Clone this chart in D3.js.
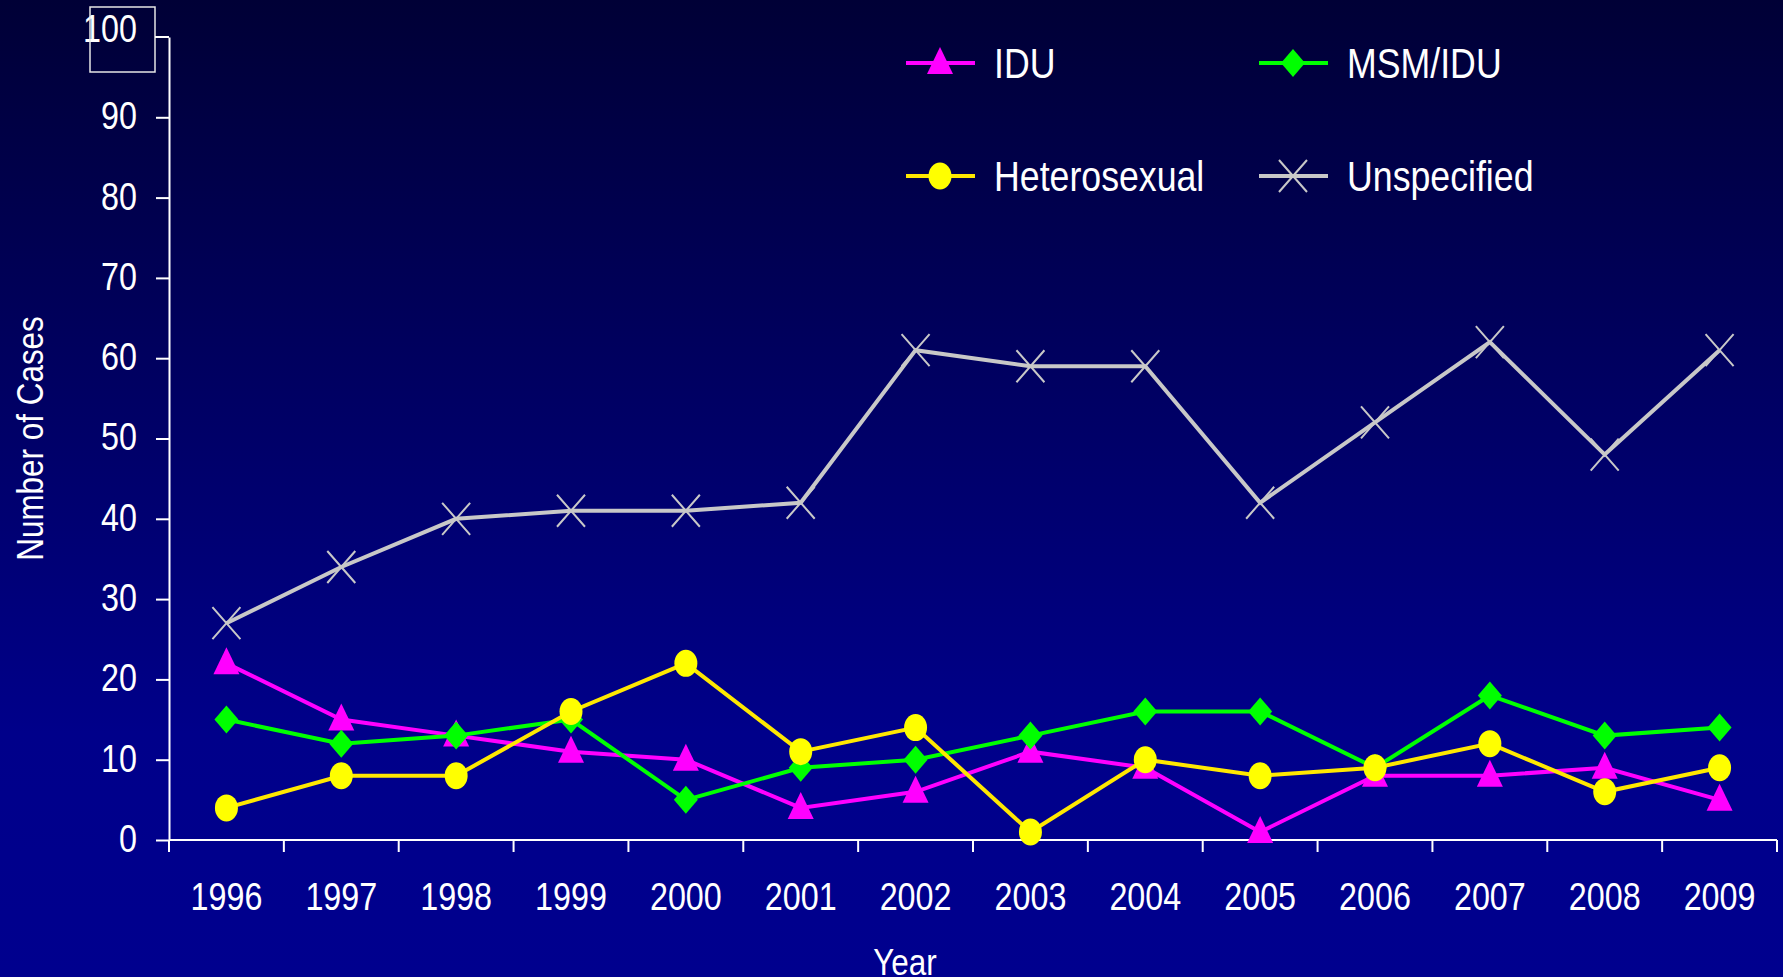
<!DOCTYPE html>
<html>
<head>
<meta charset="utf-8">
<script src="https://cdn.jsdelivr.net/npm/d3@7"></script>
<style>
  body { margin: 0; background: #000060; overflow: hidden; }
  text { font-family: "Liberation Sans", Arial, sans-serif; fill: #ffffff; }
</style>
</head>
<body>
<div id="chart"></div>
<script>
// data
var years = ["1996","1997","1998","1999","2000","2001","2002","2003","2004","2005","2006","2007","2008","2009"];
var idu          = [22, 15, 13, 11, 10, 4, 6, 11, 9, 1, 8, 8, 9, 5];
var msmIdu       = [15, 12, 13, 15, 5, 9, 10, 13, 16, 16, 9, 18, 13, 14];
var heterosexual = [4, 8, 8, 16, 22, 11, 14, 1, 10, 8, 9, 12, 6, 9];
var unspecified  = [27, 34, 40, 41, 41, 42, 61, 59, 59, 42, 52, 62, 48, 61];
var yTicks = [0, 10, 20, 30, 40, 50, 60, 70, 80, 90, 100];

var W = 1783, H = 977;
var margin = {top: 37, right: 6, bottom: 137, left: 169};
var narrow = 0.85; // squeeze the text horizontally, the original font is a condensed one

var svg = d3.select("#chart")
  .append("svg")
    .attr("width", W)
    .attr("height", H);

// background gradient
var grad = svg.append("defs").append("linearGradient")
    .attr("id", "bg")
    .attr("x1", 0).attr("y1", 0).attr("x2", 0).attr("y2", 1);
grad.append("stop").attr("offset", "0%").attr("stop-color", "#000036");
grad.append("stop").attr("offset", "75%").attr("stop-color", "#00008a");
grad.append("stop").attr("offset", "100%").attr("stop-color", "#00008e");
svg.append("rect").attr("width", W).attr("height", H).attr("fill", "url(#bg)");

// make a text narrower without moving it
function squeeze(sel) {
  sel.each(function() {
    var t = d3.select(this);
    var tx = +t.attr("x") || 0;
    t.attr("x", tx / narrow).attr("transform", "scale(" + narrow + ",1)");
  });
}

var x = d3.scaleBand()
  .domain(years)
  .range([margin.left, W - margin.right]);

var y = d3.scaleLinear()
  .domain([0, 100])
  .range([H - margin.bottom, margin.top]);

// X axis
var xAxis = svg.append("g")
  .attr("transform", "translate(0," + (H - margin.bottom) + ")")
  .call(d3.axisBottom(x).tickSize(0).tickPadding(0));
xAxis.select(".domain").attr("stroke", "#fff").attr("stroke-width", 2).attr("d",
  "M" + margin.left + ",0H" + (W - margin.right));
xAxis.selectAll(".tick text")
  .attr("y", 70)
  .attr("dy", 0)
  .attr("font-size", 38)
  .attr("font-family", null)
  .attr("fill", "#fff")
  .call(squeeze);
// ticks on band edges
xAxis.selectAll(".edge")
  .data(years.concat(["end"]))
  .enter().append("line")
    .attr("x1", (d, i) => i < years.length ? x(d) : x.range()[1])
    .attr("x2", (d, i) => i < years.length ? x(d) : x.range()[1])
    .attr("y1", 0)
    .attr("y2", 12)
    .attr("stroke", "#fff")
    .attr("stroke-width", 2);

// Y axis
var yAxis = svg.append("g")
  .attr("transform", "translate(" + margin.left + ",0)")
  .call(d3.axisLeft(y).tickValues(yTicks).tickSize(13).tickPadding(19).tickSizeOuter(0));
yAxis.select(".domain").attr("stroke", "#fff").attr("stroke-width", 2);
yAxis.selectAll(".tick line").attr("stroke", "#fff").attr("stroke-width", 2);
yAxis.selectAll(".tick text")
  .attr("font-size", 38)
  .attr("font-family", null)
  .attr("fill", "#fff")
  .attr("dy", d => d === 100 ? "0.12em" : "0.3em")
  .call(squeeze);
// the "100" sits in a little box
yAxis.selectAll(".tick line").filter(d => d === 100).remove();
svg.append("rect")
  .attr("x", margin.left - 79)
  .attr("y", y(100) - 30)
  .attr("width", 65)
  .attr("height", 65)
  .attr("fill", "none")
  .attr("stroke", "#e6e6e6")
  .attr("stroke-width", 1.5);
svg.append("line")
  .attr("x1", margin.left - 14).attr("x2", margin.left)
  .attr("y1", y(100)).attr("y2", y(100))
  .attr("stroke", "#fff").attr("stroke-width", 2);

// axis titles
svg.append("text")
  .attr("transform", "translate(" + 43 + "," + ((margin.top + H - margin.bottom) / 2) + ") rotate(-90) scale(" + narrow + ",1)")
  .style("text-anchor", "middle")
  .attr("font-size", 37)
  .text("Number of Cases");
svg.append("text")
  .attr("x", 905)
  .attr("y", H - 2)
  .style("text-anchor", "middle")
  .attr("font-size", 37)
  .text("Year")
  .call(squeeze);

// series
var series = [
  {name: "IDU", values: idu, color: "#ff00ff", marker: "triangle"},
  {name: "MSM/IDU", values: msmIdu, color: "#00ff00", marker: "diamond"},
  {name: "Heterosexual", values: heterosexual, color: "#ffff00", line: "#ffe800", marker: "circle"},
  {name: "Unspecified", values: unspecified, color: "#c8c8c8", marker: "cross"}
];

var line = d3.line()
  .x((d, i) => x(years[i]) + x.bandwidth() / 2)
  .y(d => y(d));

function drawMarker(g, s) {
  if (s.marker === "triangle") {
    g.append("path").attr("d", "M0,-16L13,11L-13,11Z").attr("fill", s.color);
  } else if (s.marker === "diamond") {
    g.append("path").attr("d", "M0,-14L12,0L0,14L-12,0Z").attr("fill", s.color);
  } else if (s.marker === "circle") {
    g.append("ellipse").attr("rx", 11.5).attr("ry", 13.5).attr("fill", s.color);
  } else {
    g.append("path").attr("d", "M-14,-16L14,16M-14,16L14,-16")
      .attr("stroke", s.color).attr("stroke-width", 2).attr("fill", "none");
  }
}

series.forEach(s => {
  var g = svg.append("g");
  g.append("path")
    .datum(s.values)
    .attr("d", line)
    .attr("fill", "none")
    .attr("stroke", s.line || s.color)
    .attr("stroke-width", 4);
  g.selectAll(".pt")
    .data(s.values)
    .enter().append("g")
      .attr("transform", (d, i) => "translate(" + (x(years[i]) + x.bandwidth() / 2) + "," + y(d) + ")")
      .each(function() { drawMarker(d3.select(this), s); });
});

// legend
var legendPos = [[906, 63], [1259, 63], [906, 176], [1259, 176]];
series.forEach((s, i) => {
  var lg = svg.append("g").attr("transform", "translate(" + legendPos[i][0] + "," + legendPos[i][1] + ")");
  lg.append("line").attr("x1", 0).attr("x2", 69).attr("y1", 0).attr("y2", 0)
    .attr("stroke", s.line || s.color).attr("stroke-width", 4);
  var m = lg.append("g").attr("transform", "translate(34,0)");
  drawMarker(m, s);
  lg.append("text")
    .attr("x", 88)
    .attr("dy", "0.36em")
    .attr("font-size", 42)
    .text(s.name)
    .call(squeeze);
});
</script>
</body>
</html>
